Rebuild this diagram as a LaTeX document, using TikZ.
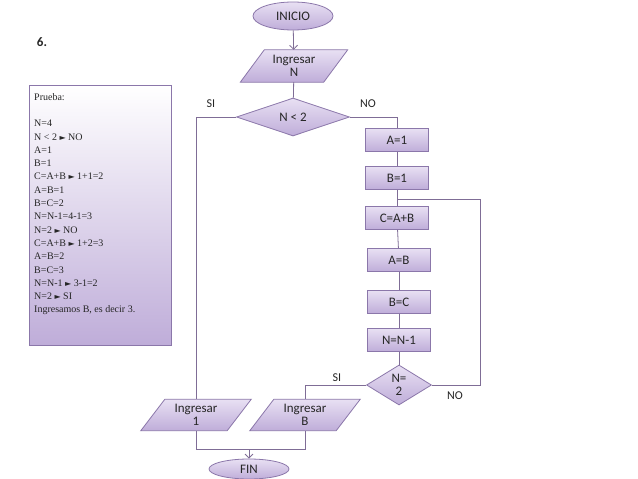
\documentclass[tikz,border=0pt]{standalone}
\usepackage{fontspec}
\setmainfont{Carlito}
\newfontfamily\tms{Liberation Serif}
\newfontfamily\djv{DejaVu Sans}
\newcommand\tri{{\djv\fontsize{8}{10}\selectfont ►}}
\usetikzlibrary{shapes.geometric,arrows.meta}
\definecolor{bord}{HTML}{8B77AA}
\definecolor{ln}{HTML}{7F6D96}
\definecolor{ftop}{HTML}{E8E0F3}
\definecolor{fbot}{HTML}{BFADD9}
\begin{document}
\begin{tikzpicture}[x=1pt,y=-1pt,
  every node/.style={font=\fontsize{13}{15}\selectfont, text=black!85},
  fl/.style={draw=bord, top color=ftop, bottom color=fbot, line width=0.8pt},
  term/.style={fl, ellipse, inner sep=0pt},
  proc/.style={fl, rectangle, minimum width=63, minimum height=23, inner sep=0pt},
  dec/.style={fl, diamond, inner sep=0pt, aspect=2.6},
  ionode/.style={minimum width=86, minimum height=31, inner sep=0pt, align=center, text depth=0pt},
  con/.style={draw=ln, line width=0.8pt},
  lbl/.style={font=\fontsize{12}{14}\selectfont}]
\useasboundingbox (0,0) rectangle (638,479);
\fill[white] (0,0) rectangle (638,479);
\node[term, minimum width=80, minimum height=28] (ini) at (293,16) {INICIO};
\node[ionode, minimum width=83, minimum height=32] (in) at (294,66) {};
\node[dec, minimum width=113, minimum height=38] (d1) at (293,117) {N < 2};
\node[proc] (a1) at (397,140) {A=1};
\node[proc] (b1) at (397,178) {B=1};
\node[proc] (c) at (397,218) {C=A+B};
\node[proc] (ab) at (399,260) {A=B};
\node[proc] (bc) at (399,302) {B=C};
\node[proc] (nn) at (399,340) {N=N-1};
\node[dec, minimum width=65, minimum height=40, aspect=1.6] (d2) at (399,385) {};
\node[ionode] (i1) at (196,415) {};
\node[ionode] (ib) at (305,415) {};
\node[term, minimum width=80, minimum height=20] (fin) at (249,469) {FIN};
\foreach \n in {in,i1,ib}{
  \draw[fl] ([xshift=12]\n.north west) -- ([xshift=12]\n.north east) -- ([xshift=-12]\n.south east) -- ([xshift=-12]\n.south west) -- cycle;}
\node[align=center, inner sep=0pt] (tin) at (294,66) {Ingresar\\[-2pt]N};
\node[align=center, inner sep=0pt] (ti1) at (196,415) {Ingresar\\[-2pt]1};
\node[align=center, inner sep=0pt] (tib) at (305,415) {Ingresar\\[-2pt]B};
\node[align=center, inner sep=0pt] (td2) at (399,385) {N=\\[-2pt]2};
\coordinate (j1) at (249,449);
\draw[con,-{Straight Barb[length=4pt]}] (ini) -- (in);
\draw[con] (in) -- (d1);
\draw[con] (d1.west) -| (i1.north);
\draw[con] (d1.east) -| (a1.north);
\draw[con] (a1) -- (b1);
\draw[con] (b1) -- (c);
\draw[con] (c) -- (ab);
\draw[con] (ab) -- (bc);
\draw[con] (bc) -- (nn);
\draw[con] (nn) -- (d2);
\draw[con] (d2.east) -- (480,385) -- (480,199) -- (397,199);
\draw[con] (d2.west) -| (ib.north);
\draw[con] (i1.south) |- (ib.south |- j1) -- (ib.south);
\draw[con,-{Straight Barb[length=4pt]}] (j1) -- (fin);
\node[lbl] (si1) at (211,104) {SI};
\node[lbl] (no1) at (368,104) {NO};
\node[lbl] (si2) at (337,378) {SI};
\node[lbl] (no2) at (455,396) {NO};
\node[font=\fontsize{13}{15}\selectfont\bfseries] (six) at (42,42) {6.};
\node[draw=bord, top color=white, bottom color=fbot, minimum width=142, minimum height=260, inner sep=0pt] (box) at (100,215) {};
\node[anchor=north west, align=left, inner sep=0pt, font=\tms\fontsize{10}{13.3}\selectfont] (txt) at (34,93) {Prueba:\\[13.3pt]
N=4\\
N < 2 \tri{} NO\\
A=1\\
B=1\\
C=A+B \tri{} 1+1=2\\
A=B=1\\
B=C=2\\
N=N-1=4-1=3\\
N=2 \tri{} NO\\
C=A+B \tri{} 1+2=3\\
A=B=2\\
B=C=3\\
N=N-1 \tri{} 3-1=2\\
N=2 \tri{} SI\\
Ingresamos B, es decir 3.};
\end{tikzpicture}
\end{document}
